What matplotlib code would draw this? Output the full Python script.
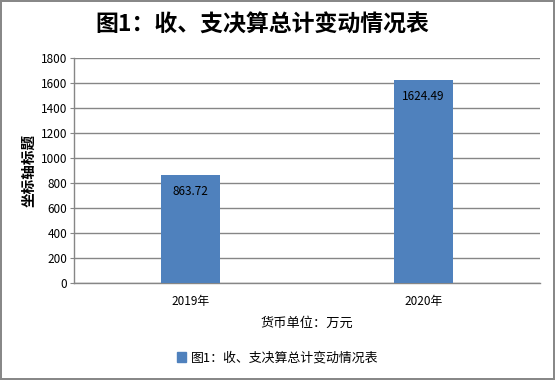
import matplotlib

matplotlib.use("Agg")
import matplotlib.pyplot as plt
from matplotlib.patches import Patch

# Data
years = ["2019年", "2020年"]
totals = [863.72, 1624.49]
y_ticks = [0, 200, 400, 600, 800, 1000, 1200, 1400, 1600, 1800]

TITLE = "图1：收、支决算总计变动情况表"
BAR_COLOR = "#4F81BD"
GRID_COLOR = "#868686"

plt.rcParams["font.family"] = ["Noto Sans CJK SC", "DejaVu Sans"]

fig = plt.figure(figsize=(5.55, 3.8), dpi=100)
fig.patch.set_facecolor("white")
fig.patch.set_edgecolor("#888888")
fig.patch.set_linewidth(1.5)

ax = fig.add_axes([74 / 555, 1 - 283 / 380, (540 - 74) / 555, (283 - 58) / 380])

x = list(range(len(years)))
bars = ax.bar(x, totals, width=0.25, color=BAR_COLOR, zorder=3)
for b, v in zip(bars, totals):
    ax.annotate(f"{v:.2f}", xy=(b.get_x() + b.get_width() / 2, v),
                xytext=(0, -12), textcoords="offset points",
                ha="center", va="center", fontsize=8.5, color="#000000", zorder=4)

ax.set_xlim(-0.5, 1.5)
ax.set_ylim(0, 1800)
ax.set_yticks(y_ticks)
ax.set_xticks(x)
ax.set_xticklabels(years, fontsize=8.5)
ax.tick_params(axis="y", labelsize=8.5, length=3, color=GRID_COLOR, pad=2)
ax.tick_params(axis="x", length=0, pad=9)
ax.grid(axis="y", color=GRID_COLOR, linewidth=1, zorder=0)

for side in ("top", "right"):
    ax.spines[side].set_visible(False)
for side in ("left", "bottom"):
    ax.spines[side].set_color(GRID_COLOR)
    ax.spines[side].set_linewidth(1)

ax.set_xlabel("货币单位：万元", fontsize=9.5, labelpad=6)
ax.set_ylabel("坐标轴标题", fontsize=10.5, fontweight="bold", labelpad=3)

fig.text(262 / 555, 1 - 25 / 380, TITLE, ha="center", va="center",
         fontsize=16.5, fontweight="bold")

handle = Patch(facecolor=BAR_COLOR, edgecolor=BAR_COLOR)
fig.legend([handle], [TITLE], loc="center", bbox_to_anchor=(0.5, 1 - 358 / 380),
           frameon=False, fontsize=9.3, handlelength=0.7, handleheight=0.7,
           handletextpad=0.4)

fig.savefig("out.png", dpi=100)
